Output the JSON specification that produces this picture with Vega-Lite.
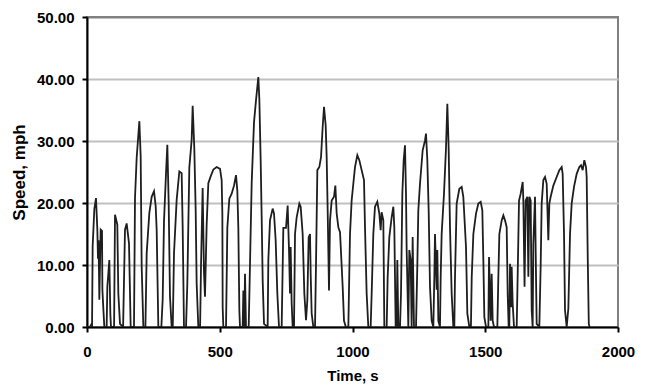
{
  "$schema": "https://vega.github.io/schema/vega-lite/v6.json",
  "width": 531,
  "height": 310,
  "autosize": "none",
  "padding": {"left": 87, "top": 17, "right": 32, "bottom": 63},
  "background": "white",
  "config": {
    "view": {"stroke": "#808080", "strokeWidth": 2},
    "axis": {
      "labelFont": "Liberation Sans",
      "labelFontWeight": "bold",
      "labelFontSize": 15,
      "labelColor": "#000000",
      "titleFont": "Liberation Sans",
      "titleFontWeight": "bold",
      "titleColor": "#000000",
      "domainColor": "#000000",
      "domainWidth": 2,
      "tickColor": "#000000",
      "tickWidth": 2,
      "tickSize": 5
    }
  },
  "data": {
    "values": [
      {"t": 0, "v": 0}, {"t": 11, "v": 0}, {"t": 17.6, "v": 0.5}, {"t": 19, "v": 0}, {"t": 21.3, "v": 13}, {"t": 27.6, "v": 19}, {"t": 33.9, "v": 20.8}, {"t": 38.9, "v": 15.7}, {"t": 41.4, "v": 11}, {"t": 43.5, "v": 14}, {"t": 46.5, "v": 4.4}, {"t": 51.5, "v": 15.7}, {"t": 56.5, "v": 15.5}, {"t": 58, "v": 6}, {"t": 61.5, "v": 3}, {"t": 65.3, "v": 0}, {"t": 74, "v": 0}, {"t": 76.6, "v": 6.5}, {"t": 84.1, "v": 10.8}, {"t": 88, "v": 2}, {"t": 90.4, "v": 0}, {"t": 102, "v": 0}, {"t": 105.5, "v": 18.1}, {"t": 114.2, "v": 16.5}, {"t": 118, "v": 5.4}, {"t": 124.3, "v": 0.5}, {"t": 136, "v": 0}, {"t": 143.1, "v": 15.7}, {"t": 149.4, "v": 16.7}, {"t": 158.2, "v": 13.5}, {"t": 164.5, "v": 0}, {"t": 177, "v": 0}, {"t": 180.8, "v": 20.8}, {"t": 187.1, "v": 27.3}, {"t": 197.2, "v": 33.2}, {"t": 202.2, "v": 27.5}, {"t": 205.9, "v": 9.8}, {"t": 212.2, "v": 0}, {"t": 220, "v": 0}, {"t": 224.8, "v": 11.9}, {"t": 234.8, "v": 18.4}, {"t": 243.6, "v": 21}, {"t": 252.4, "v": 21.9}, {"t": 258.7, "v": 19.5}, {"t": 262.4, "v": 15.7}, {"t": 268.7, "v": 0}, {"t": 280, "v": 0}, {"t": 285, "v": 4.4}, {"t": 290, "v": 17}, {"t": 297.6, "v": 24.8}, {"t": 302.6, "v": 29.4}, {"t": 307.6, "v": 20}, {"t": 312.6, "v": 4.9}, {"t": 318.9, "v": 0}, {"t": 323, "v": 0}, {"t": 327.7, "v": 11.9}, {"t": 337.7, "v": 20.5}, {"t": 347.8, "v": 25.1}, {"t": 356.5, "v": 24.8}, {"t": 360.3, "v": 16.2}, {"t": 365.3, "v": 0}, {"t": 373, "v": 0}, {"t": 377.9, "v": 7}, {"t": 385.4, "v": 25.7}, {"t": 394.2, "v": 30.2}, {"t": 398, "v": 35.7}, {"t": 404.3, "v": 28.6}, {"t": 409.3, "v": 18.9}, {"t": 413, "v": 7}, {"t": 419.3, "v": 0}, {"t": 426, "v": 0}, {"t": 429.4, "v": 9.8}, {"t": 435.6, "v": 22.4}, {"t": 440.7, "v": 8.7}, {"t": 444.4, "v": 4.9}, {"t": 450.7, "v": 16.5}, {"t": 457, "v": 23.2}, {"t": 465.8, "v": 24.3}, {"t": 475.9, "v": 25.4}, {"t": 488.4, "v": 25.8}, {"t": 501, "v": 25.5},
      {"t": 507.2, "v": 23.7}, {"t": 509.8, "v": 18.3}, {"t": 511, "v": 3.2}, {"t": 513.5, "v": 0}, {"t": 523.6, "v": 0}, {"t": 528.6, "v": 16}, {"t": 536.1, "v": 20.7}, {"t": 544.9, "v": 21.5}, {"t": 553.7, "v": 22.8}, {"t": 561.2, "v": 24.5}, {"t": 566.2, "v": 22}, {"t": 570, "v": 16}, {"t": 573.8, "v": 2.7}, {"t": 576.3, "v": 0}, {"t": 586.3, "v": 0}, {"t": 588.9, "v": 5.9}, {"t": 592.6, "v": 0}, {"t": 595.1, "v": 8.6}, {"t": 598.9, "v": 0}, {"t": 609, "v": 0}, {"t": 614, "v": 10.2}, {"t": 620.2, "v": 23.1}, {"t": 629, "v": 33}, {"t": 636.6, "v": 36.6}, {"t": 645.3, "v": 40.3}, {"t": 649.1, "v": 36.8}, {"t": 654.1, "v": 26.9}, {"t": 657.9, "v": 17.7}, {"t": 661.7, "v": 7.5}, {"t": 666.7, "v": 0.5}, {"t": 680.5, "v": 0}, {"t": 683, "v": 10.8}, {"t": 689.3, "v": 17.2}, {"t": 699.3, "v": 19.1}, {"t": 704.4, "v": 18.3}, {"t": 710.6, "v": 14}, {"t": 716.9, "v": 5.4}, {"t": 723.2, "v": 0}, {"t": 733.2, "v": 0}, {"t": 739.5, "v": 16}, {"t": 749.6, "v": 16}, {"t": 755.8, "v": 19.6}, {"t": 760.9, "v": 12.4}, {"t": 764.6, "v": 5.4}, {"t": 767.1, "v": 12.9}, {"t": 770.9, "v": 3.8}, {"t": 774.7, "v": 0}, {"t": 779.7, "v": 0}, {"t": 783.5, "v": 15}, {"t": 789.7, "v": 17.7}, {"t": 799.8, "v": 19.9}, {"t": 804.8, "v": 19.4}, {"t": 812.3, "v": 15}, {"t": 818.6, "v": 5.4}, {"t": 824.9, "v": 1.1}, {"t": 829.9, "v": 4.3}, {"t": 834.9, "v": 14.5}, {"t": 840, "v": 15}, {"t": 842.5, "v": 8.6}, {"t": 846.2, "v": 2.2}, {"t": 852.5, "v": 0}, {"t": 858.8, "v": 0}, {"t": 862.5, "v": 10}, {"t": 867.6, "v": 25.3}, {"t": 875.1, "v": 25.8}, {"t": 881.4, "v": 27.4}, {"t": 887.7, "v": 32.3}, {"t": 892.7, "v": 35.5}, {"t": 899, "v": 32.5}, {"t": 902.7, "v": 27.4}, {"t": 906.5, "v": 18.8}, {"t": 911.5, "v": 5.9}, {"t": 915.3, "v": 17.2}, {"t": 921.6, "v": 20.4}, {"t": 930.3, "v": 21}, {"t": 935.4, "v": 22.8}, {"t": 940.4, "v": 18.3}, {"t": 946.7, "v": 16.1}, {"t": 953, "v": 15.3}, {"t": 963, "v": 6.5}, {"t": 968, "v": 1}, {"t": 975, "v": 0},
      {"t": 984.3, "v": 0}, {"t": 990.6, "v": 15}, {"t": 996.8, "v": 20.4}, {"t": 1003.1, "v": 23.1}, {"t": 1009.4, "v": 25.8}, {"t": 1018.2, "v": 27.7}, {"t": 1025.7, "v": 26.9}, {"t": 1034.5, "v": 25.3}, {"t": 1043.3, "v": 23.7}, {"t": 1047.1, "v": 16.1}, {"t": 1053.3, "v": 5.4}, {"t": 1059.6, "v": 0}, {"t": 1068.4, "v": 0}, {"t": 1072.2, "v": 5.4}, {"t": 1078.4, "v": 15}, {"t": 1084.7, "v": 19.4}, {"t": 1093.5, "v": 20.2}, {"t": 1101, "v": 18.3}, {"t": 1106.1, "v": 15.6}, {"t": 1109.8, "v": 18.5}, {"t": 1116.1, "v": 17.2}, {"t": 1119.9, "v": 0}, {"t": 1128.7, "v": 0}, {"t": 1132.4, "v": 8}, {"t": 1138.7, "v": 14.5}, {"t": 1147.5, "v": 17.7}, {"t": 1153.8, "v": 19.4}, {"t": 1157.5, "v": 16.1}, {"t": 1162.6, "v": 0}, {"t": 1166.3, "v": 0}, {"t": 1168.8, "v": 10.8}, {"t": 1172.6, "v": 0}, {"t": 1178.9, "v": 0}, {"t": 1182.7, "v": 5.4}, {"t": 1187.7, "v": 21.5}, {"t": 1192.7, "v": 26.9}, {"t": 1197.7, "v": 29.3}, {"t": 1201.5, "v": 21.5}, {"t": 1204, "v": 12.4}, {"t": 1210.3, "v": 0}, {"t": 1214, "v": 12.4}, {"t": 1219.1, "v": 10.8}, {"t": 1222.8, "v": 0}, {"t": 1226.6, "v": 14.5}, {"t": 1231.6, "v": 0}, {"t": 1239.2, "v": 0}, {"t": 1244.2, "v": 10}, {"t": 1247.9, "v": 18.8}, {"t": 1254.2, "v": 23.1}, {"t": 1264.3, "v": 28.5}, {"t": 1273.1, "v": 30.1}, {"t": 1276.8, "v": 31.2}, {"t": 1281.8, "v": 26.9}, {"t": 1286.9, "v": 18.8}, {"t": 1291.9, "v": 6.5}, {"t": 1298.2, "v": 1}, {"t": 1304.4, "v": 0}, {"t": 1308.2, "v": 8}, {"t": 1310.7, "v": 15}, {"t": 1317, "v": 6}, {"t": 1319.5, "v": 12.4}, {"t": 1323.3, "v": 1}, {"t": 1329.5, "v": 0}, {"t": 1332.1, "v": 8}, {"t": 1335.8, "v": 15}, {"t": 1344.6, "v": 21.5}, {"t": 1352.1, "v": 28.8}, {"t": 1357.2, "v": 36}, {"t": 1362.2, "v": 28.8}, {"t": 1367.2, "v": 16.1}, {"t": 1373.5, "v": 5.4}, {"t": 1379.8, "v": 0}, {"t": 1383.5, "v": 0}, {"t": 1386, "v": 8}, {"t": 1392.3, "v": 19.9}, {"t": 1402.4, "v": 22.3}, {"t": 1411.2, "v": 22.6}, {"t": 1417.4, "v": 21}, {"t": 1427.5, "v": 12.9}, {"t": 1432.5, "v": 2.2}, {"t": 1440, "v": 0}, {"t": 1446, "v": 0},
      {"t": 1449, "v": 8}, {"t": 1455.2, "v": 15}, {"t": 1465.2, "v": 18.3}, {"t": 1474, "v": 19.9}, {"t": 1482.8, "v": 20.2}, {"t": 1489, "v": 18.8}, {"t": 1492.8, "v": 10.8}, {"t": 1496.6, "v": 1.6}, {"t": 1502.9, "v": 0}, {"t": 1511.7, "v": 0}, {"t": 1514.2, "v": 11.3}, {"t": 1517.9, "v": 5.4}, {"t": 1520.4, "v": 1}, {"t": 1524.2, "v": 8.6}, {"t": 1528, "v": 1}, {"t": 1533, "v": 0}, {"t": 1545.5, "v": 0}, {"t": 1549.3, "v": 8}, {"t": 1553.1, "v": 15}, {"t": 1561.9, "v": 17.2}, {"t": 1568.1, "v": 18}, {"t": 1574.4, "v": 17.2}, {"t": 1580.7, "v": 16.1}, {"t": 1584.5, "v": 5.4}, {"t": 1588.2, "v": 0}, {"t": 1590.7, "v": 0}, {"t": 1593.3, "v": 10.2}, {"t": 1597, "v": 3.2}, {"t": 1599.5, "v": 9.7}, {"t": 1603.3, "v": 3.8}, {"t": 1608.3, "v": 0}, {"t": 1618.4, "v": 0}, {"t": 1620.9, "v": 5.4}, {"t": 1627.2, "v": 20.4}, {"t": 1633.4, "v": 21.5}, {"t": 1641, "v": 23.4}, {"t": 1643.5, "v": 20.4}, {"t": 1648, "v": 6.5}, {"t": 1652.3, "v": 20.4}, {"t": 1658.5, "v": 21}, {"t": 1662.3, "v": 8.1}, {"t": 1666.1, "v": 21}, {"t": 1671.1, "v": 20.4}, {"t": 1674.9, "v": 2.7}, {"t": 1678.6, "v": 0}, {"t": 1681.1, "v": 13.4}, {"t": 1687.4, "v": 21}, {"t": 1691.2, "v": 8.1}, {"t": 1693.7, "v": 0.5}, {"t": 1703.7, "v": 0}, {"t": 1708.8, "v": 10}, {"t": 1712.5, "v": 19.9}, {"t": 1718.8, "v": 23.7}, {"t": 1725.1, "v": 24.2}, {"t": 1731.4, "v": 23.1}, {"t": 1737.6, "v": 14}, {"t": 1741.4, "v": 19.9}, {"t": 1746.4, "v": 21}, {"t": 1756.5, "v": 22.8}, {"t": 1769, "v": 24.2}, {"t": 1779.1, "v": 25.3}, {"t": 1787.9, "v": 25.8}, {"t": 1791.6, "v": 24.7}, {"t": 1796.7, "v": 15}, {"t": 1800.4, "v": 2.7}, {"t": 1806.7, "v": 0}, {"t": 1813, "v": 3}, {"t": 1819.3, "v": 15}, {"t": 1825.5, "v": 19.9}, {"t": 1834.3, "v": 22.6}, {"t": 1844.4, "v": 24.7}, {"t": 1854.4, "v": 25.8}, {"t": 1860.7, "v": 26.1}, {"t": 1867, "v": 25.3}, {"t": 1873.2, "v": 26.9}, {"t": 1879.5, "v": 25.8}, {"t": 1882, "v": 24.2}, {"t": 1886, "v": 11.3}, {"t": 1890, "v": 0.5}, {"t": 1893, "v": 0}
    ]
  },
  "mark": {"type": "line", "color": "#1e1e1e", "strokeWidth": 1.8, "clip": true},
  "encoding": {
    "x": {
      "field": "t",
      "type": "quantitative",
      "scale": {"domain": [0, 2000], "nice": false, "zero": true},
      "axis": {
        "title": "Time, s",
        "titleFontSize": 15,
        "values": [0, 500, 1000, 1500, 2000],
        "format": "d",
        "grid": false,
        "labelPadding": 12,
        "titlePadding": 9,
        "labelFlush": false
      }
    },
    "y": {
      "field": "v",
      "type": "quantitative",
      "scale": {"domain": [0, 50], "nice": false},
      "axis": {
        "title": "Speed, mph",
        "titleFontSize": 17,
        "values": [0, 10, 20, 30, 40, 50],
        "format": ".2f",
        "grid": true,
        "gridColor": {"condition": {"test": "datum.value === 50", "value": "#808080"}, "value": "#c0c0c0"},
        "gridWidth": 2,
        "labelPadding": 8,
        "titlePadding": 8,
        "labelFlush": false
      }
    }
  }
}
